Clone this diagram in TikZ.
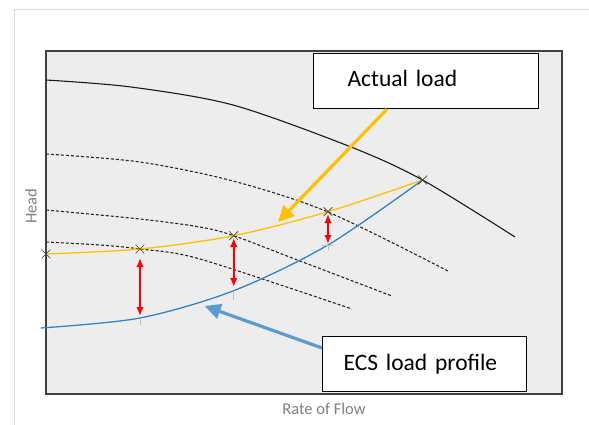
\documentclass[tikz,border=0pt]{standalone}
\usepackage{fontspec}
\setmainfont{Carlito}
\usetikzlibrary{arrows.meta,shapes.misc}
\definecolor{plotbg}{RGB}{237,237,237}
\definecolor{plotframe}{RGB}{64,64,64}
\definecolor{pagegray}{RGB}{217,217,217}
\definecolor{loadyellow}{RGB}{255,192,0}
\definecolor{ecsblue}{RGB}{46,134,202}
\definecolor{calloutblue}{RGB}{91,155,213}

\begin{document}
\begin{tikzpicture}[x=1pt, y=-1pt,
      box/.style={draw=black, line width=1.2pt, fill=white, anchor=north west,
                  align=left, text height=17pt, font=\fontsize{23.5}{26}\selectfont},
      axislabel/.style={text=black!50, font=\fontsize{16.5}{18}\selectfont},
      pump/.style={line width=1.1pt, black!90},
      system/.style={dash pattern=on 3pt off 2pt, line width=1.1pt, black!85},
      xmark/.style={cross out, draw=black!75, minimum size=8pt, inner sep=0pt, line width=0.7pt},
      gap/.style={{Latex[length=9pt,width=7.5pt]}-{Latex[length=9pt,width=7.5pt]}, red, line width=2pt},
      tick/.style={black!25, line width=1pt},
      callout/.style={-{Triangle[length=16pt,width=15pt]}, line width=3.2pt}]

    \useasboundingbox (0,0) rectangle (589,425);
    \draw[pagegray, line width=0.8pt] (14,425) -- (14,9) -- (589,9);
    \draw[line width=1.6pt, draw=plotframe, fill=plotbg] (46,51) rectangle (562,394);

    % pump and system curves
    \draw[pump] plot[smooth] coordinates {(46,80) (131,87) (233,105) (351,147) (422.6,180) (515,237)};
    \draw[system] plot[smooth] coordinates {(46,154) (140,162) (233,181) (328,212) (448,271)};
    \draw[system] plot[smooth] coordinates {(46,210) (140,219) (200,227) (233.7,235.7) (300,261) (392,296)};
    \draw[system] plot[smooth] coordinates {(46,242) (100,245) (140,249) (200,259) (352,309)};

    \draw[loadyellow, line width=1.3pt] plot[smooth] coordinates {(46,254) (140,249) (233.7,235.7) (328,211.7) (422.6,180)};
    \draw[ecsblue, line width=1.3pt] plot[smooth] coordinates {(40.6,328) (140,318) (233.7,290.7) (328,245) (422.6,180)};

    \coordinate (e1) at (140,318);
    \coordinate (e2) at (233.7,290.7);
    \coordinate (e3) at (328,245);
    \draw[tick] (e1) -- ++(0,7);
    \draw[tick] (e2) -- ++(0,9);
    \draw[tick] (e3) -- ++(0,5);
    \draw[tick] (321.7,245) -- (333,245);

    \node[xmark] (y0) at (46,254) {};
    \node[xmark] (y1) at (140,249) {};
    \node[xmark] (y2) at (233.7,235.7) {};
    \node[xmark] (y3) at (328,211.7) {};
    \node[xmark] (y4) at (422.6,180) {};

    \draw[gap, shorten <=9pt, shorten >=2pt] (y1.center) -- (e1);
    \draw[gap, shorten <=2.3pt, shorten >=3.7pt] (y2.center) -- (e2);
    \draw[gap, shorten <=2.3pt, shorten >=1pt] (y3.center) -- (e3);

    \node[axislabel, rotate=90] (head) at (31,206) {Head};
    \node[axislabel] (flow) at (324,409) {Rate of Flow};

    % callouts
    \node[box, minimum width=225pt, minimum height=55pt, inner xsep=34pt,
          text width=157pt, text depth=6pt] (actual) at (313,53) {Actual load};
    \node[box, minimum width=204pt, minimum height=55pt, inner xsep=21pt,
          text width=162pt, text depth=4pt] (ecs) at (322,336) {ECS load profile};

    \coordinate (ytip) at (278,222);
    \coordinate (btip) at (204.7,306);
    \draw[callout, loadyellow] ([xshift=74pt]actual.south west) -- (ytip);
    \draw[callout, calloutblue] ([yshift=-12pt]ecs.north west) -- (btip);
  \end{tikzpicture}
\end{document}
